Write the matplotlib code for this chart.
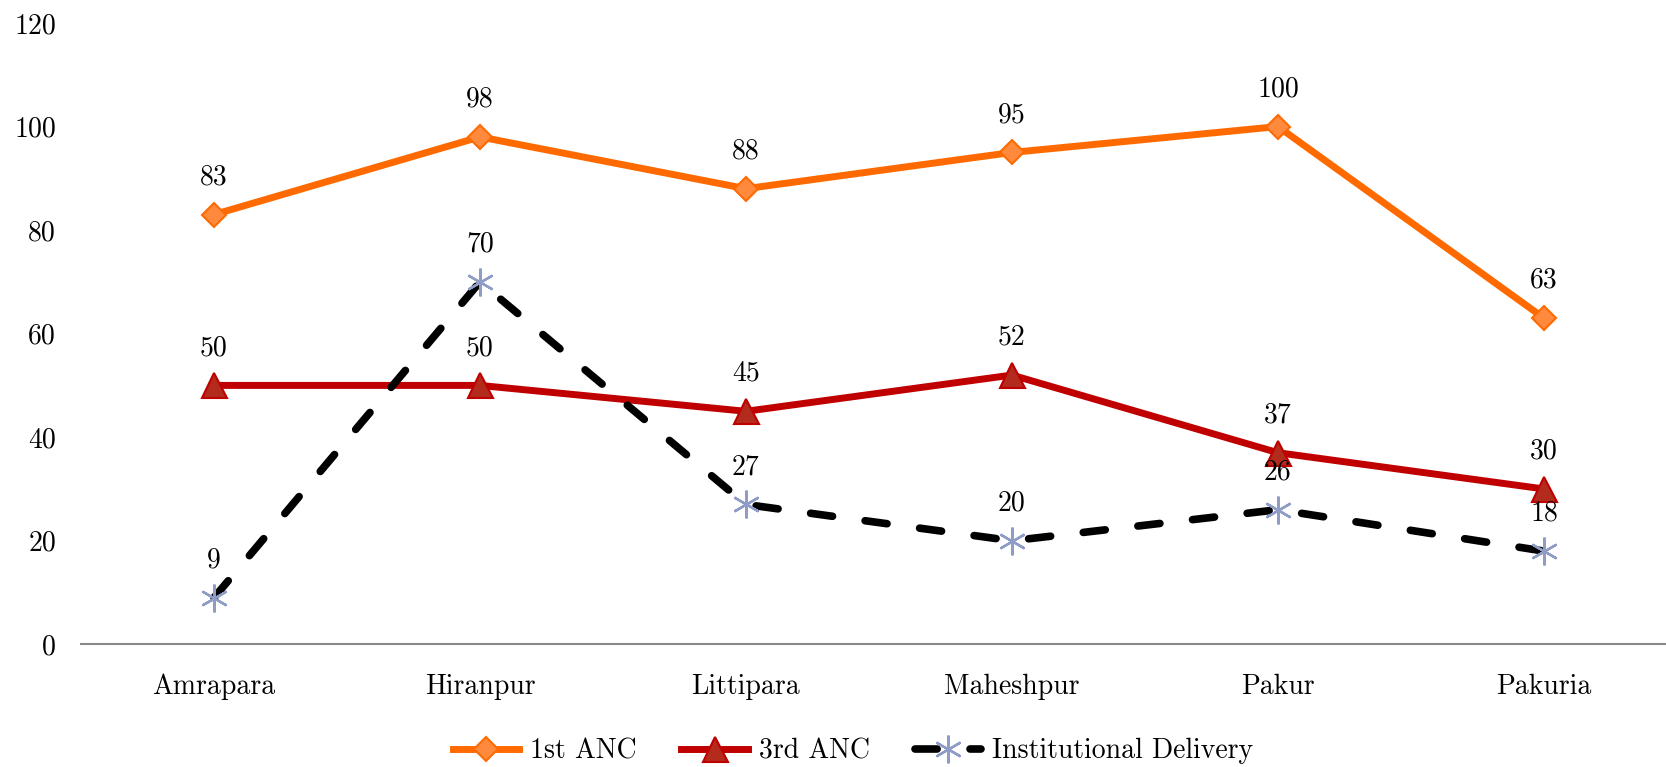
import numpy as np
import matplotlib
matplotlib.use("Agg")
import matplotlib.pyplot as plt

plt.rcParams['font.family'] = ['cmr10', 'DejaVu Serif']
plt.rcParams['axes.formatter.use_mathtext'] = True

blocks = ["Amrapara", "Hiranpur", "Littipara", "Maheshpur", "Pakur", "Pakuria"]
anc1 = [83, 98, 88, 95, 100, 63]
anc3 = [50, 50, 45, 52, 37, 30]
inst_delivery = [9, 70, 27, 20, 26, 18]
yticks = [0, 20, 40, 60, 80, 100, 120]

fig = plt.figure(figsize=(16.66, 7.67), dpi=100)
ax = fig.add_axes([0.0486, 0.160, 0.958, 0.810])

x = np.arange(len(blocks))

ax.plot(x, anc1, color="#FF6A00", lw=5, marker="D", ms=12,
        mfc="#FF8A3D", mec="#FF6A00", mew=1.5, label="1st ANC", zorder=3)
ax.plot(x, anc3, color="#C00000", lw=5, marker="^", ms=18,
        mfc="#B22B1C", mec="#C00000", mew=1.5, label="3rd ANC", zorder=3)
ax.plot(x, inst_delivery, color="black", lw=5.5, ls=(0, (2.9, 4.3)),
        dash_capstyle="round", marker=(6, 2, 0), ms=20,
        mec="#8E9CC6", mew=1.7, label="Institutional Delivery", zorder=3)

# value labels above each point
for series in (anc1, anc3, inst_delivery):
    for xi, v in zip(x, series):
        ax.annotate(f"{v}", (xi, v), xytext=(0, 27), textcoords="offset points",
                    ha="center", va="center", fontsize=20, zorder=5)

ax.set_xlim(-0.5, len(blocks) - 0.5)
ax.set_ylim(0, 120)
ax.set_yticks(yticks)
ax.set_yticklabels([str(t) for t in yticks])
ax.set_xticks(x)
ax.set_xticklabels(blocks)
ax.tick_params(axis="y", length=0, pad=18, labelsize=20)
ax.tick_params(axis="x", length=0, pad=21, labelsize=20)

for side in ("top", "right", "left"):
    ax.spines[side].set_visible(False)
ax.spines["bottom"].set_color("#888888")
ax.spines["bottom"].set_linewidth(1.5)
ax.spines["bottom"].set_zorder(1)

fig.legend(loc="lower center", bbox_to_anchor=(0.512, -0.029), ncol=3,
           frameon=False, fontsize=20, handlelength=2.4, columnspacing=1.6,
           handletextpad=0.4)

fig.savefig("out.png", dpi=100)
